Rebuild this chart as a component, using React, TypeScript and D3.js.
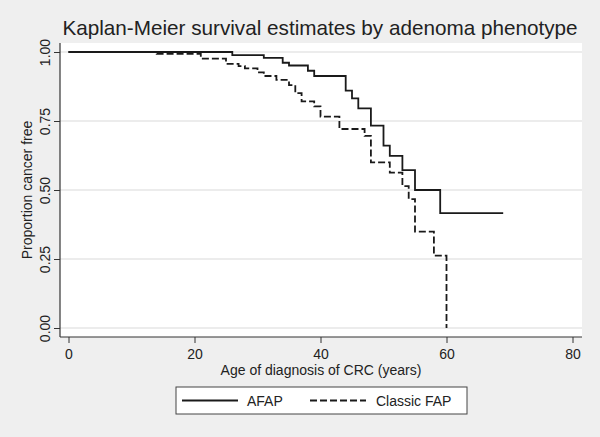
import * as d3 from 'd3';
import React, { useEffect, useRef } from 'react';

// Kaplan-Meier step estimates
const afapAge = [0, 26, 31, 34, 35, 38, 39, 44, 45, 46, 48, 50, 51, 53, 55, 59, 69];
const afapSurv = [1, 0.989, 0.979, 0.961, 0.951, 0.932, 0.913, 0.86, 0.832, 0.796, 0.733, 0.661, 0.624, 0.572, 0.5, 0.416, 0.416];

const classicAge = [0, 14, 21, 25, 27, 28, 30, 31, 33, 35, 36, 37, 39, 40, 43, 47, 48, 51, 53, 54, 55, 58, 60];
const classicSurv = [1, 0.993, 0.976, 0.957, 0.949, 0.941, 0.926, 0.913, 0.899, 0.88, 0.851, 0.821, 0.803, 0.766, 0.721, 0.696, 0.6, 0.563, 0.514, 0.467, 0.349, 0.262, 0];

const xTicks = [0, 20, 40, 60, 80];
const yTicks = [0, 0.25, 0.5, 0.75, 1];
const seriesNames = ['AFAP', 'Classic FAP'];

const FONT = '"Liberation Sans", Arial, sans-serif';

const App = () => {
  const ref = useRef<SVGSVGElement>(null);

  useEffect(() => {
    const width = 600, height = 437;
    const plot = { left: 60, right: 582, top: 43, bottom: 337 };

    const svg = d3.select(ref.current);
    svg.selectAll('*').remove();

    svg.append('rect').attr('width', width).attr('height', height).attr('fill', '#efefef');
    svg.append('rect')
      .attr('x', plot.left).attr('y', plot.top)
      .attr('width', plot.right - plot.left).attr('height', plot.bottom - plot.top)
      .attr('fill', '#fff');

    const x = d3.scaleLinear().domain([0, 80]).range([68.5, 572.5]);
    const y = d3.scaleLinear().domain([0, 1]).range([328, 52]);

    // gridlines
    svg.append('g').selectAll('line')
      .data(yTicks)
      .join('line')
      .attr('x1', plot.left).attr('x2', plot.right)
      .attr('y1', d => y(d)).attr('y2', d => y(d))
      .attr('stroke', '#e6e6e6').attr('stroke-width', 1.5);

    // axes
    const yAxis = svg.append('g')
      .attr('transform', `translate(${plot.left},0)`)
      .call(d3.axisLeft(y).tickValues(yTicks).tickFormat(d3.format('.2f')).tickSize(6));
    yAxis.select('.domain').remove();
    yAxis.selectAll('line').attr('stroke', '#333');
    yAxis.selectAll('text')
      .attr('font-family', FONT).attr('font-size', 14).attr('fill', '#222')
      .attr('text-anchor', 'middle')
      .attr('transform', 'translate(-10,0) rotate(-90)')
      .attr('x', 0).attr('y', 0).attr('dy', 0);

    const xAxis = svg.append('g')
      .attr('transform', `translate(0,${plot.bottom})`)
      .call(d3.axisBottom(x).tickValues(xTicks).tickFormat(d3.format('d')).tickSize(6).tickPadding(6));
    xAxis.select('.domain').remove();
    xAxis.selectAll('line').attr('stroke', '#333');
    xAxis.selectAll('text').attr('font-family', FONT).attr('font-size', 14).attr('fill', '#222');

    svg.append('line')
      .attr('x1', plot.left).attr('x2', plot.left).attr('y1', plot.top).attr('y2', plot.bottom)
      .attr('stroke', '#333').attr('stroke-width', 1.2);
    svg.append('line')
      .attr('x1', plot.left).attr('x2', plot.right).attr('y1', plot.bottom).attr('y2', plot.bottom)
      .attr('stroke', '#333').attr('stroke-width', 1.2);

    // KM curves
    const line = d3.line<[number, number]>()
      .x(d => x(d[0]))
      .y(d => y(d[1]))
      .curve(d3.curveStepAfter);

    const afap = afapAge.map((a, i) => [a, afapSurv[i]] as [number, number]);
    const classic = classicAge.map((a, i) => [a, classicSurv[i]] as [number, number]);

    svg.append('path').attr('d', line(afap))
      .attr('fill', 'none').attr('stroke', '#1a1a1a').attr('stroke-width', 1.8);
    svg.append('path').attr('d', line(classic))
      .attr('fill', 'none').attr('stroke', '#1a1a1a').attr('stroke-width', 1.8)
      .attr('stroke-dasharray', '7,3');

    // titles
    svg.append('text')
      .attr('x', 320).attr('y', 35)
      .attr('text-anchor', 'middle')
      .attr('font-family', FONT).attr('font-size', 20.7).attr('fill', '#222')
      .text('Kaplan-Meier survival estimates by adenoma phenotype');

    svg.append('text')
      .attr('x', 321).attr('y', 375)
      .attr('text-anchor', 'middle')
      .attr('font-family', FONT).attr('font-size', 14).attr('fill', '#222')
      .text('Age of diagnosis of CRC (years)');

    svg.append('text')
      .attr('transform', `translate(32,${y(0.5)}) rotate(-90)`)
      .attr('text-anchor', 'middle')
      .attr('font-family', FONT).attr('font-size', 14).attr('fill', '#222')
      .text('Proportion cancer free');

    // legend
    const lg = svg.append('g');
    lg.append('rect')
      .attr('x', 176).attr('y', 387).attr('width', 291).attr('height', 27)
      .attr('fill', '#fff').attr('stroke', '#444').attr('stroke-width', 1);
    const items = [
      { name: seriesNames[0], x1: 182, x2: 238, tx: 247, dash: null },
      { name: seriesNames[1], x1: 310, x2: 366, tx: 376, dash: '7,3' },
    ];
    items.forEach(it => {
      const l = lg.append('line')
        .attr('x1', it.x1).attr('x2', it.x2).attr('y1', 400.5).attr('y2', 400.5)
        .attr('stroke', '#1a1a1a').attr('stroke-width', 1.8);
      if (it.dash) l.attr('stroke-dasharray', it.dash);
      lg.append('text')
        .attr('x', it.tx).attr('y', 406)
        .attr('font-family', FONT).attr('font-size', 14).attr('fill', '#222')
        .text(it.name);
    });
  }, []);

  return (
    <svg ref={ref} width={600} height={437} style={{ position: 'absolute', left: 0, top: 0 }} />
  );
};

export default App;
